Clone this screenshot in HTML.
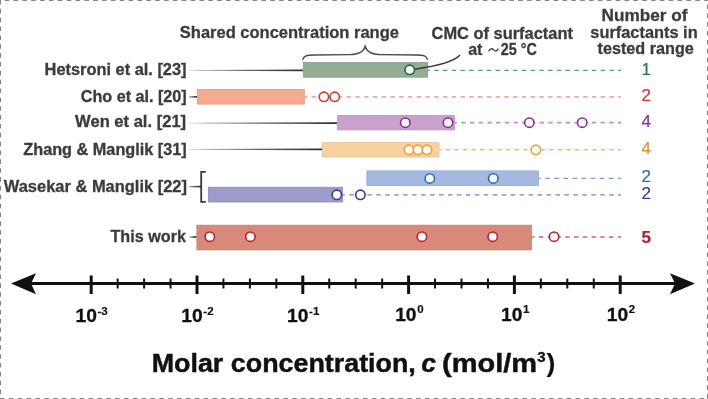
<!DOCTYPE html>
<html><head><meta charset="utf-8"><title>Molar concentration chart</title>
<style>
html,body{margin:0;padding:0;background:#fff;}
body{width:708px;height:399px;overflow:hidden;font-family:"Liberation Sans", sans-serif;}
svg{display:block;will-change:transform;}
</style></head><body>
<svg width="708" height="399" viewBox="0 0 708 399" font-family='"Liberation Sans", sans-serif'><defs>
<linearGradient id="lg" x1="0" y1="0" x2="1" y2="0">
<stop offset="0" stop-color="#dddddd"/>
<stop offset="0.12" stop-color="#a8a8a8"/>
<stop offset="0.5" stop-color="#666666"/>
<stop offset="1" stop-color="#2e2e2e"/>
</linearGradient>
<linearGradient id="lg2" x1="0" y1="0" x2="1" y2="0">
<stop offset="0" stop-color="#b0b0b0"/>
<stop offset="0.5" stop-color="#5a5a5a"/>
<stop offset="1" stop-color="#333333"/>
</linearGradient>
</defs><line x1="0" y1="0.5" x2="708" y2="0.5" stroke="#858585" stroke-width="1.1" stroke-dasharray="4.55 4.304" stroke-dashoffset="4.154"/>
<line x1="0.5" y1="0" x2="0.5" y2="399" stroke="#858585" stroke-width="1.1" stroke-dasharray="4.55 4.304" stroke-dashoffset="0.000"/>
<line x1="707.5" y1="0" x2="707.5" y2="399" stroke="#858585" stroke-width="1.1" stroke-dasharray="4.55 4.304" stroke-dashoffset="4.354"/>
<line x1="0" y1="398.5" x2="708" y2="398.5" stroke="#858585" stroke-width="1.1" stroke-dasharray="4.55 4.304" stroke-dashoffset="0.000"/>
<path d="M189,69.90 L303,69.45 L303,71.15 L189,70.70 Z" fill="url(#lg)"/>
<line x1="428.00" y1="70.4" x2="621" y2="70.4" stroke="#559c7a" stroke-width="1.15" stroke-dasharray="4.38 4.38" stroke-dashoffset="2.52"/>
<rect x="303.30" y="62.50" width="124.20" height="14.70" fill="#94ae95" stroke="#86a088" stroke-width="0.8"/>
<path d="M414.6,69.2 Q452,64 460,55" fill="none" stroke="#3a3a3a" stroke-width="1.5"/>
<circle cx="409.7" cy="69.8" r="4.7" fill="#fff" stroke="#1b6b38" stroke-width="1.6"/>
<path d="M189,96.30 L197,96.00 L197,97.80 L189,97.50 Z" fill="url(#lg2)"/>
<line x1="305.00" y1="96.9" x2="621" y2="96.9" stroke="#f2aa9a" stroke-width="1.7" stroke-dasharray="4.38 4.38" stroke-dashoffset="2.16"/>
<rect x="197.40" y="89.40" width="106.90" height="14.70" fill="#f5aa91" stroke="#e09a84" stroke-width="0.8"/>
<circle cx="323.9" cy="96.8" r="4.7" fill="#fff" stroke="#d23a34" stroke-width="1.6"/>
<circle cx="334.7" cy="96.8" r="4.7" fill="#fff" stroke="#d23a34" stroke-width="1.6"/>
<path d="M189,122.80 L337.3,122.35 L337.3,124.05 L189,123.60 Z" fill="url(#lg)"/>
<line x1="455.00" y1="122.7" x2="621" y2="122.7" stroke="#c888cd" stroke-width="1.7" stroke-dasharray="4.35 4.35" stroke-dashoffset="2.40"/>
<rect x="337.70" y="115.60" width="116.70" height="14.30" fill="#c8a1cc" stroke="#b890bc" stroke-width="0.8"/>
<circle cx="405.3" cy="122.7" r="4.7" fill="#fff" stroke="#8e2b9c" stroke-width="1.6"/>
<circle cx="448" cy="122.7" r="4.7" fill="#fff" stroke="#8e2b9c" stroke-width="1.6"/>
<circle cx="529.3" cy="122.7" r="4.7" fill="#fff" stroke="#8e2b9c" stroke-width="1.6"/>
<circle cx="582.2" cy="122.7" r="4.7" fill="#fff" stroke="#8e2b9c" stroke-width="1.6"/>
<path d="M189,149.00 L322.1,148.55 L322.1,150.25 L189,149.80 Z" fill="url(#lg)"/>
<line x1="439.40" y1="149.8" x2="621" y2="149.8" stroke="#f4b86c" stroke-width="1.5" stroke-dasharray="4.31 4.31" stroke-dashoffset="2.32"/>
<rect x="322.50" y="142.70" width="116.50" height="14.30" fill="#fbd1a2" stroke="#e8bc90" stroke-width="0.8"/>
<circle cx="408.9" cy="149.8" r="4.7" fill="#fff" stroke="#f0a030" stroke-width="1.6"/>
<circle cx="418" cy="149.8" r="4.7" fill="#fff" stroke="#f0a030" stroke-width="1.6"/>
<circle cx="427" cy="149.8" r="4.7" fill="#fff" stroke="#f0a030" stroke-width="1.6"/>
<circle cx="535.9" cy="149.8" r="4.7" fill="#fff" stroke="#f0a030" stroke-width="1.6"/>
<line x1="539.00" y1="178.4" x2="621" y2="178.4" stroke="#74a0d8" stroke-width="1.15" stroke-dasharray="4.54 4.54" stroke-dashoffset="2.83"/>
<rect x="366.90" y="170.90" width="171.50" height="14.70" fill="#a5b8e0" stroke="#94a8d0" stroke-width="0.8"/>
<circle cx="429.8" cy="178.4" r="4.7" fill="#fff" stroke="#2a6eb5" stroke-width="1.6"/>
<circle cx="493.3" cy="178.4" r="4.7" fill="#fff" stroke="#2a6eb5" stroke-width="1.6"/>
<line x1="343.00" y1="194.8" x2="621" y2="194.8" stroke="#7e7aca" stroke-width="1.35" stroke-dasharray="4.48 4.48" stroke-dashoffset="2.56"/>
<rect x="208.40" y="187.20" width="134.20" height="14.80" fill="#9c9bca" stroke="#8c8bba" stroke-width="0.8"/>
<circle cx="336.8" cy="194.8" r="4.7" fill="#fff" stroke="#3a3a9a" stroke-width="1.6"/>
<circle cx="360.4" cy="194.8" r="4.7" fill="#fff" stroke="#3a3a9a" stroke-width="1.6"/>
<path d="M189,186.00 L201.2,185.70 L201.2,187.50 L189,187.20 Z" fill="url(#lg2)"/>
<path d="M205.8,171.8 H201.2 V201.8 H205.8" fill="none" stroke="#3a3a3a" stroke-width="1.8"/>
<path d="M189,236.40 L196.5,236.10 L196.5,237.90 L189,237.60 Z" fill="url(#lg2)"/>
<line x1="532.00" y1="237" x2="621" y2="237" stroke="#d85e66" stroke-width="1.35" stroke-dasharray="4.38 4.38" stroke-dashoffset="1.80"/>
<rect x="196.90" y="225.20" width="334.50" height="24.70" fill="#d88a7a" stroke="#c87a6a" stroke-width="0.8"/>
<circle cx="209.8" cy="236.7" r="4.7" fill="#fff" stroke="#c41b2f" stroke-width="1.6"/>
<circle cx="250.4" cy="236.7" r="4.7" fill="#fff" stroke="#c41b2f" stroke-width="1.6"/>
<circle cx="421.9" cy="236.7" r="4.7" fill="#fff" stroke="#c41b2f" stroke-width="1.6"/>
<circle cx="492.7" cy="236.7" r="4.7" fill="#fff" stroke="#c41b2f" stroke-width="1.6"/>
<circle cx="554.1" cy="236.7" r="4.7" fill="#fff" stroke="#c41b2f" stroke-width="1.6"/>
<path d="M302.6,59.8 C303.6,55.9 306.5,55.1 314,55 L349,54.6 C359.5,54.4 364.4,51.5 365.2,45.3 C366,51.5 370.9,54.4 381.4,54.6 L416.4,55 C423.9,55.1 426.6,55.9 427.6,59.8" fill="none" stroke="#4a4a4a" stroke-width="1.4"/>
<text x="44.58" y="75.2" font-size="16.0" font-weight="bold" fill="#3b3b3b" text-anchor="start" textLength="141.94" lengthAdjust="spacingAndGlyphs" stroke="#3b3b3b" stroke-width="0.3">Hetsroni et al. [23]</text>
<text x="80.80" y="101.8" font-size="16.0" font-weight="bold" fill="#3b3b3b" text-anchor="start" textLength="105.91" lengthAdjust="spacingAndGlyphs" stroke="#3b3b3b" stroke-width="0.3">Cho et al. [20]</text>
<text x="75.10" y="127.3" font-size="16.0" font-weight="bold" fill="#3b3b3b" text-anchor="start" textLength="111.01" lengthAdjust="spacingAndGlyphs" stroke="#3b3b3b" stroke-width="0.3">Wen et al. [21]</text>
<text x="23.30" y="154.8" font-size="16.0" font-weight="bold" fill="#3b3b3b" text-anchor="start" textLength="163.42" lengthAdjust="spacingAndGlyphs" stroke="#3b3b3b" stroke-width="0.3">Zhang &amp; Manglik [31]</text>
<text x="3.80" y="191.5" font-size="16.0" font-weight="bold" fill="#3b3b3b" text-anchor="start" textLength="183.17" lengthAdjust="spacingAndGlyphs" stroke="#3b3b3b" stroke-width="0.3">Wasekar &amp; Manglik [22]</text>
<text x="110.50" y="242.4" font-size="17.0" font-weight="bold" fill="#3b3b3b" text-anchor="start" textLength="75.44" lengthAdjust="spacingAndGlyphs" stroke="#3b3b3b" stroke-width="0.3">This work</text>
<text x="179.84" y="38.2" font-size="17.2" font-weight="bold" fill="#3b3b3b" text-anchor="start" textLength="219.11" lengthAdjust="spacingAndGlyphs" stroke="#3b3b3b" stroke-width="0.3">Shared concentration range</text>
<text x="431.60" y="38.8" font-size="17.2" font-weight="bold" fill="#3b3b3b" text-anchor="start" textLength="141.31" lengthAdjust="spacingAndGlyphs" stroke="#3b3b3b" stroke-width="0.3">CMC of surfactant</text>
<text x="468.20" y="55.2" font-size="17.2" font-weight="bold" fill="#3b3b3b" text-anchor="start" textLength="14.28" lengthAdjust="spacingAndGlyphs" stroke="#3b3b3b" stroke-width="0.3">at</text>
<text x="500.80" y="55.2" font-size="17.2" font-weight="bold" fill="#3b3b3b" text-anchor="start" textLength="36.16" lengthAdjust="spacingAndGlyphs" stroke="#3b3b3b" stroke-width="0.3">25 °C</text>
<text x="601.50" y="21.3" font-size="17.2" font-weight="bold" fill="#3b3b3b" text-anchor="start" textLength="85.94" lengthAdjust="spacingAndGlyphs" stroke="#3b3b3b" stroke-width="0.3">Number of</text>
<text x="590.35" y="37.5" font-size="17.2" font-weight="bold" fill="#3b3b3b" text-anchor="start" textLength="107.32" lengthAdjust="spacingAndGlyphs" stroke="#3b3b3b" stroke-width="0.3">surfactants in</text>
<text x="597.50" y="53.7" font-size="17.2" font-weight="bold" fill="#3b3b3b" text-anchor="start" textLength="96.39" lengthAdjust="spacingAndGlyphs" stroke="#3b3b3b" stroke-width="0.3">tested range</text>
<text x="151.69" y="371.8" font-size="26.5" font-weight="bold" fill="#111" text-anchor="start" textLength="264.16" lengthAdjust="spacingAndGlyphs" stroke="#111" stroke-width="0.45">Molar concentration,</text>
<text x="421.20" y="371.8" font-size="26.5" font-weight="bold" fill="#111" text-anchor="start" font-style="italic" stroke="#111" stroke-width="0.45">c</text>
<text x="442.11" y="371.8" font-size="26.5" font-weight="bold" fill="#111" text-anchor="start" textLength="95.05" lengthAdjust="spacingAndGlyphs" stroke="#111" stroke-width="0.45">(mol/m</text>
<text x="537.20" y="361.7" font-size="15.0" font-weight="bold" fill="#111" text-anchor="start" stroke="#111" stroke-width="0.3">3</text>
<text x="546.45" y="371.8" font-size="26.5" font-weight="bold" fill="#111" text-anchor="start" stroke="#111" stroke-width="0.1">)</text>
<path d="M488.6,51.2 C490.2,48.2 492.3,48.2 493.6,49.8 C494.9,51.4 497,51.4 498.4,48.6" fill="none" stroke="#3b3b3b" stroke-width="1.3"/>
<text x="646.30" y="74.7" font-size="17" font-weight="normal" fill="#1e7a48" text-anchor="middle" stroke="#1e7a48" stroke-width="0.2">1</text>
<text x="646.30" y="100.8" font-size="17" font-weight="normal" fill="#d8302c" text-anchor="middle" stroke="#d8302c" stroke-width="0.2">2</text>
<text x="646.30" y="127.4" font-size="17" font-weight="normal" fill="#8e2b9c" text-anchor="middle" stroke="#8e2b9c" stroke-width="0.2">4</text>
<text x="646.30" y="154.0" font-size="17" font-weight="normal" fill="#ee8c20" text-anchor="middle" stroke="#ee8c20" stroke-width="0.2">4</text>
<text x="646.30" y="181.5" font-size="17" font-weight="normal" fill="#2a6eb5" text-anchor="middle" stroke="#2a6eb5" stroke-width="0.2">2</text>
<text x="646.30" y="199.2" font-size="17" font-weight="normal" fill="#3a3a9a" text-anchor="middle" stroke="#3a3a9a" stroke-width="0.2">2</text>
<text x="646.30" y="243.4" font-size="17" font-weight="bold" fill="#c0182c" text-anchor="middle" stroke="#c0182c" stroke-width="0.2">5</text>
<line x1="25" y1="283.5" x2="683" y2="283.5" stroke="#111" stroke-width="2.8"/>
<path d="M11,283.5 L36,273.3 L31,283.5 L36,294.2 Z" fill="#111"/>
<path d="M695,283.5 L670,273.3 L675,283.5 L670,294.2 Z" fill="#111"/>
<line x1="91.20" y1="275.5" x2="91.20" y2="294" stroke="#111" stroke-width="3"/>
<line x1="117.65" y1="278.5" x2="117.65" y2="288.5" stroke="#111" stroke-width="2"/>
<line x1="144.10" y1="278.5" x2="144.10" y2="288.5" stroke="#111" stroke-width="2"/>
<line x1="170.55" y1="278.5" x2="170.55" y2="288.5" stroke="#111" stroke-width="2"/>
<line x1="197.00" y1="275.5" x2="197.00" y2="294" stroke="#111" stroke-width="3"/>
<line x1="223.45" y1="278.5" x2="223.45" y2="288.5" stroke="#111" stroke-width="2"/>
<line x1="249.90" y1="278.5" x2="249.90" y2="288.5" stroke="#111" stroke-width="2"/>
<line x1="276.35" y1="278.5" x2="276.35" y2="288.5" stroke="#111" stroke-width="2"/>
<line x1="302.80" y1="275.5" x2="302.80" y2="294" stroke="#111" stroke-width="3"/>
<line x1="329.25" y1="278.5" x2="329.25" y2="288.5" stroke="#111" stroke-width="2"/>
<line x1="355.70" y1="278.5" x2="355.70" y2="288.5" stroke="#111" stroke-width="2"/>
<line x1="382.15" y1="278.5" x2="382.15" y2="288.5" stroke="#111" stroke-width="2"/>
<line x1="408.60" y1="275.5" x2="408.60" y2="294" stroke="#111" stroke-width="3"/>
<line x1="435.05" y1="278.5" x2="435.05" y2="288.5" stroke="#111" stroke-width="2"/>
<line x1="461.50" y1="278.5" x2="461.50" y2="288.5" stroke="#111" stroke-width="2"/>
<line x1="487.95" y1="278.5" x2="487.95" y2="288.5" stroke="#111" stroke-width="2"/>
<line x1="514.40" y1="275.5" x2="514.40" y2="294" stroke="#111" stroke-width="3"/>
<line x1="540.85" y1="278.5" x2="540.85" y2="288.5" stroke="#111" stroke-width="2"/>
<line x1="567.30" y1="278.5" x2="567.30" y2="288.5" stroke="#111" stroke-width="2"/>
<line x1="593.75" y1="278.5" x2="593.75" y2="288.5" stroke="#111" stroke-width="2"/>
<line x1="620.20" y1="275.5" x2="620.20" y2="294" stroke="#111" stroke-width="3"/>
<text x="75.50" y="321.6" font-size="19.2" font-weight="bold" fill="#111" stroke="#111" stroke-width="0.3">10</text>
<text x="97.50" y="314.6" font-size="11.5" font-weight="bold" fill="#111" stroke="#111" stroke-width="0.2">-3</text>
<text x="181.30" y="321.6" font-size="19.2" font-weight="bold" fill="#111" stroke="#111" stroke-width="0.3">10</text>
<text x="203.30" y="314.6" font-size="11.5" font-weight="bold" fill="#111" stroke="#111" stroke-width="0.2">-2</text>
<text x="287.10" y="321.6" font-size="19.2" font-weight="bold" fill="#111" stroke="#111" stroke-width="0.3">10</text>
<text x="309.10" y="314.6" font-size="11.5" font-weight="bold" fill="#111" stroke="#111" stroke-width="0.2">-1</text>
<text x="395.20" y="320.8" font-size="19.2" font-weight="bold" fill="#111" stroke="#111" stroke-width="0.3">10</text>
<text x="417.20" y="313.3" font-size="11.5" font-weight="bold" fill="#111" stroke="#111" stroke-width="0.2">0</text>
<text x="501.00" y="320.8" font-size="19.2" font-weight="bold" fill="#111" stroke="#111" stroke-width="0.3">10</text>
<text x="523.00" y="313.3" font-size="11.5" font-weight="bold" fill="#111" stroke="#111" stroke-width="0.2">1</text>
<text x="606.80" y="320.8" font-size="19.2" font-weight="bold" fill="#111" stroke="#111" stroke-width="0.3">10</text>
<text x="628.80" y="313.3" font-size="11.5" font-weight="bold" fill="#111" stroke="#111" stroke-width="0.2">2</text></svg>
</body></html>
